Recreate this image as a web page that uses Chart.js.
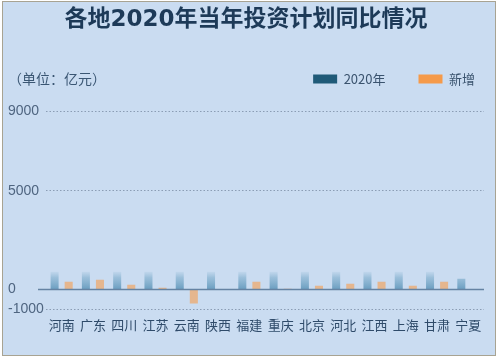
<!DOCTYPE html>
<html>
<head>
<meta charset="utf-8">
<script src="https://cdn.jsdelivr.net/npm/chart.js@4/dist/chart.umd.min.js"></script>
<style>
  html,body{margin:0;padding:0;background:#fff;}
  #wrap{position:absolute;left:0;top:0;width:499px;height:359px;}
  #frame{position:absolute;left:2px;top:1px;width:492px;height:353px;border:1.5px solid #a8a392;pointer-events:none;}
</style>
</head>
<body>
<div id="wrap"><canvas id="c" width="499" height="359"></canvas><div id="frame"></div></div>
<script>
const categories = ['河南','广东','四川','江苏','云南','陕西','福建','重庆','北京','河北','江西','上海','甘肃','宁夏'];
const values2020 = [900, 900, 900, 900, 900, 900, 900, 900, 900, 900, 900, 900, 900, 550];
const valuesNew  = [400, 500, 250, 100, -700, 0, 400, 40, 200, 300, 400, 200, 400, 0];
const yTicks = [-1000, 0, 5000, 9000];
const seriesNames = ['2020年', '新增'];

const bgPlugin = {
  id: 'bg',
  beforeDraw(chart) {
    const ctx = chart.ctx;
    ctx.save();
    ctx.fillStyle = '#cadcf1';
    ctx.fillRect(3, 2, 492, 353);
    ctx.restore();
  }
};

const legendSpacing = {
  id: 'legendSpacing',
  beforeInit(chart) {
    const orig = chart.legend.fit;
    chart.legend.fit = function () {
      orig.call(this);
      this.height += 16;
    };
  },
  afterLayout(chart) {
    chart.legend.left += 24;
    chart.legend.right += 24;
  }
};

const extrasPlugin = {
  id: 'extras',
  afterDatasetsDraw(chart) {
    const ctx = chart.ctx;
    const y = chart.scales.y;
    const area = chart.chartArea;
    const y0 = y.getPixelForValue(0);
    ctx.save();
    ctx.strokeStyle = '#6583a3';
    ctx.lineWidth = 1.5;
    ctx.beginPath();
    ctx.moveTo(area.left - 8, y0);
    ctx.lineTo(area.right, y0);
    ctx.stroke();
    const lg = chart.legend;
    ctx.fillStyle = '#3a5673';
    ctx.font = '14px "Noto Sans CJK SC"';
    ctx.textBaseline = 'middle';
    ctx.textAlign = 'left';
    ctx.fillText('（单位：亿元）', 8, lg.top + 39);
    ctx.restore();
  }
};

function blueGradient(context) {
  const chart = context.chart;
  const area = chart.chartArea;
  if (!area) return 'rgba(100,155,190,0.8)';
  const y = chart.scales.y;
  const g = chart.ctx.createLinearGradient(0, y.getPixelForValue(950), 0, y.getPixelForValue(0));
  g.addColorStop(0, 'rgba(120,170,200,0.05)');
  g.addColorStop(0.35, 'rgba(110,163,196,0.5)');
  g.addColorStop(1, 'rgba(95,150,186,0.9)');
  return g;
}

new Chart(document.getElementById('c'), {
  type: 'bar',
  data: {
    labels: categories,
    datasets: [
      { label: seriesNames[0], data: values2020, backgroundColor: blueGradient,
        categoryPercentage: 0.9, barPercentage: 0.57 },
      { label: seriesNames[1], data: valuesNew, backgroundColor: 'rgba(246,158,80,0.62)',
        categoryPercentage: 0.9, barPercentage: 0.57 }
    ]
  },
  options: {
    responsive: false,
    animation: false,
    devicePixelRatio: 1,
    layout: { padding: { left: 8, right: 15, top: 4, bottom: 26 } },
    plugins: {
      title: {
        display: true,
        text: '各地2020年当年投资计划同比情况',
        color: '#1d3a58',
        font: { family: '"DejaVu Sans", "Noto Sans CJK SC"', size: 23, weight: 'bold' },
        padding: { top: 2, bottom: 6 }
      },
      legend: {
        display: true,
        position: 'top',
        align: 'end',
        labels: {
          boxWidth: 24,
          boxHeight: 9,
          padding: 33,
          color: '#3a536e',
          font: { family: '"Noto Sans CJK SC"', size: 13 },
          generateLabels(chart) {
            const cols = ['#1f5a78', '#f59a4a'];
            return chart.data.datasets.map((ds, i) => ({
              text: ds.label, fillStyle: cols[i], strokeStyle: cols[i], lineWidth: 0,
              fontColor: '#3a536e', datasetIndex: i, hidden: false
            }));
          }
        }
      },
      tooltip: { enabled: false }
    },
    scales: {
      x: {
        grid: { display: false },
        border: { display: false },
        ticks: {
          color: '#2f4b6a',
          font: { family: '"Noto Sans CJK SC"', size: 13 },
          padding: 0,
          maxRotation: 0,
          autoSkip: false
        }
      },
      y: {
        min: -1000,
        max: 9000,
        afterBuildTicks(scale) { scale.ticks = yTicks.map(v => ({ value: v })); },
        afterFit(scale) { scale.width = 38; },
        grid: { color: '#8b9db4', lineWidth: 1, drawTicks: false },
        border: { display: false, dash: [1.5, 2] },
        ticks: {
          color: '#4f6580',
          crossAlign: 'far',
          padding: 0,
          font: { family: '"Liberation Sans"', size: 14 },
          callback: (v) => String(v)
        }
      }
    }
  },
  plugins: [bgPlugin, legendSpacing, extrasPlugin]
});
</script>
</body>
</html>
